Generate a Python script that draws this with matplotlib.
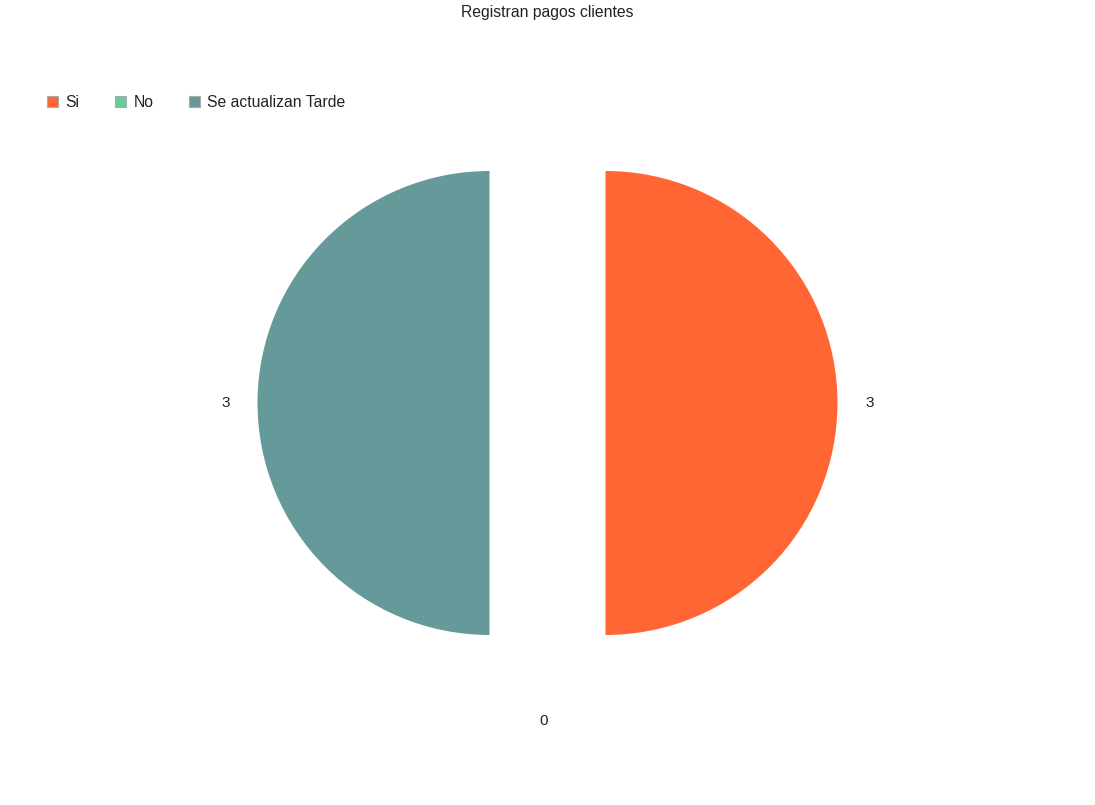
import matplotlib.pyplot as plt
from matplotlib.patches import Patch

# data
labels = ['Si', 'No', 'Se actualizan Tarde']
values = [3, 0, 3]
colors = ['#FF6633', '#66CC99', '#669999']
title = 'Registran pagos clientes'

plt.rcParams['font.family'] = ['Liberation Sans', 'DejaVu Sans']

# figure and axis
fig = plt.figure(figsize=(10.95, 8.05), dpi=100)
W, H = 1095, 805
cx, cy, r = 547.5, 403, 232  # pie centre and radius in pixels
half = 350
ax = fig.add_axes([(cx - half) / W, (H - cy - half) / H, 2 * half / W, 2 * half / H])

wedges, texts = ax.pie(values, colors=colors, startangle=90, counterclock=False,
                       explode=[0.25] * len(values), labels=[str(v) for v in values],
                       labeldistance=1.12, textprops={'fontsize': 11, 'color': '#222222'})
lim = half / r
ax.set_xlim(-lim, lim)
ax.set_ylim(-lim, lim)
ax.axis('off')

# title
fig.text(cx / W, 1 - 12 / H, title, ha='center', va='center', fontsize=11.3, color='#222222')

# legend
handles = [Patch(facecolor=c, edgecolor='#aaaaaa', linewidth=0.8) for c in colors]
fig.legend(handles, labels, loc='center left', bbox_to_anchor=(33 / W, 1 - 102 / H),
           ncol=3, frameon=False, fontsize=11.3, handlelength=0.7, handleheight=0.7,
           handletextpad=0.45, columnspacing=2.3, labelcolor='#222222')

plt.savefig('out.png', dpi=100)
plt.close()
